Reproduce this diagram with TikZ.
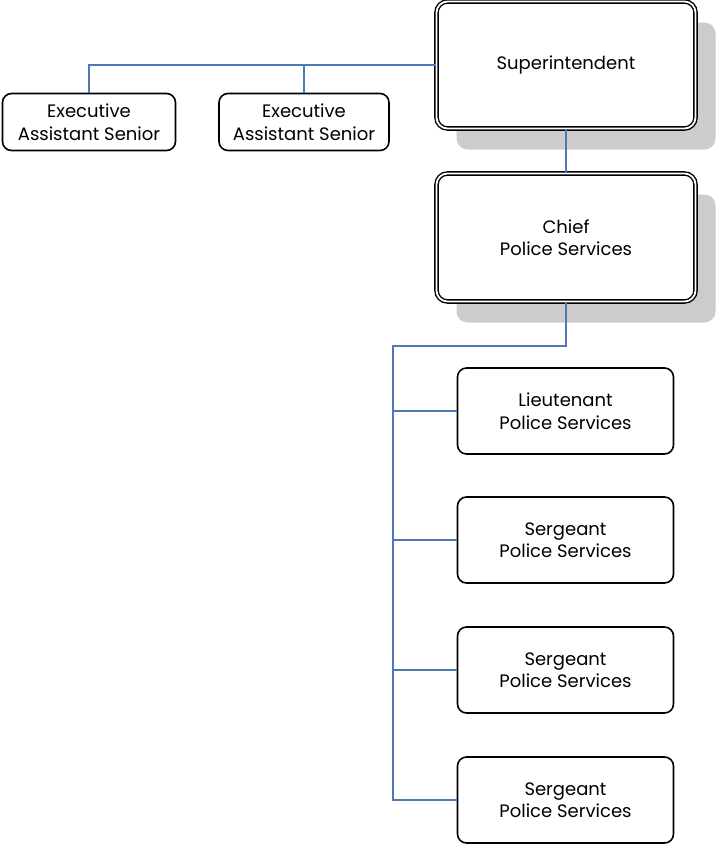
\documentclass[tikz,border=0pt]{standalone}
\usepackage{fontspec}
\setmainfont{Poppins}
\usetikzlibrary{shadows}
\definecolor{linkblue}{RGB}{79,121,181}
\definecolor{shadegray}{RGB}{204,204,204}
\begin{document}
\begin{tikzpicture}[x=1pt, y=1pt, every node/.style={font=\fontsize{18}{22.5}\selectfont, align=center},
  obox/.style={draw, line width=1.6pt, rounded corners=9pt, fill=white, inner sep=0pt},
  headbox/.style={draw, line width=1.4pt, double=white, double distance=1.8pt, rounded corners=11pt,
    fill=white, inner sep=0pt, minimum width=259pt,
    drop shadow={shadow xshift=20pt, shadow yshift=-21pt, fill=shadegray, opacity=1}},
  link/.style={linkblue, line width=1.5pt}]
  \useasboundingbox (0,0) rectangle (716,-846);
  % top of the chart
  \node[headbox, minimum height=127pt] (sup) at (566,-65) {Superintendent};
  \node[headbox, minimum height=128pt] (chief) at (566,-237.5) {Chief\\Police Services};
  \node[obox, minimum width=173pt, minimum height=57pt] (exa) at (89,-122) {Executive\\Assistant Senior};
  \node[obox, minimum width=170pt, minimum height=57pt] (exb) at (304,-122) {Executive\\Assistant Senior};
  % staff under the chief
  \node[obox, minimum width=216pt, minimum height=86pt] (lt) at (565.5,-411) {Lieutenant\\Police Services};
  \node[obox, minimum width=216pt, minimum height=86pt] (sg1) at (565.5,-540) {Sergeant\\Police Services};
  \node[obox, minimum width=216pt, minimum height=86pt] (sg2) at (565.5,-670) {Sergeant\\Police Services};
  \node[obox, minimum width=216pt, minimum height=86pt] (sg3) at (565.5,-800) {Sergeant\\Police Services};
  \coordinate (bus) at (393,-346);
  \draw[link] (sup.west) -| (exa.north); \draw[link] (exb.north) |- (sup.west);
  \draw[link] (sup.south) -- (chief.north);
  \draw[link] (chief.south) |- (bus) |- (sg3.west);
  \draw[link] (bus |- lt.west) -- (lt.west); \draw[link] (bus |- sg1.west) -- (sg1.west);
  \draw[link] (bus |- sg2.west) -- (sg2.west);
\end{tikzpicture}
\end{document}
